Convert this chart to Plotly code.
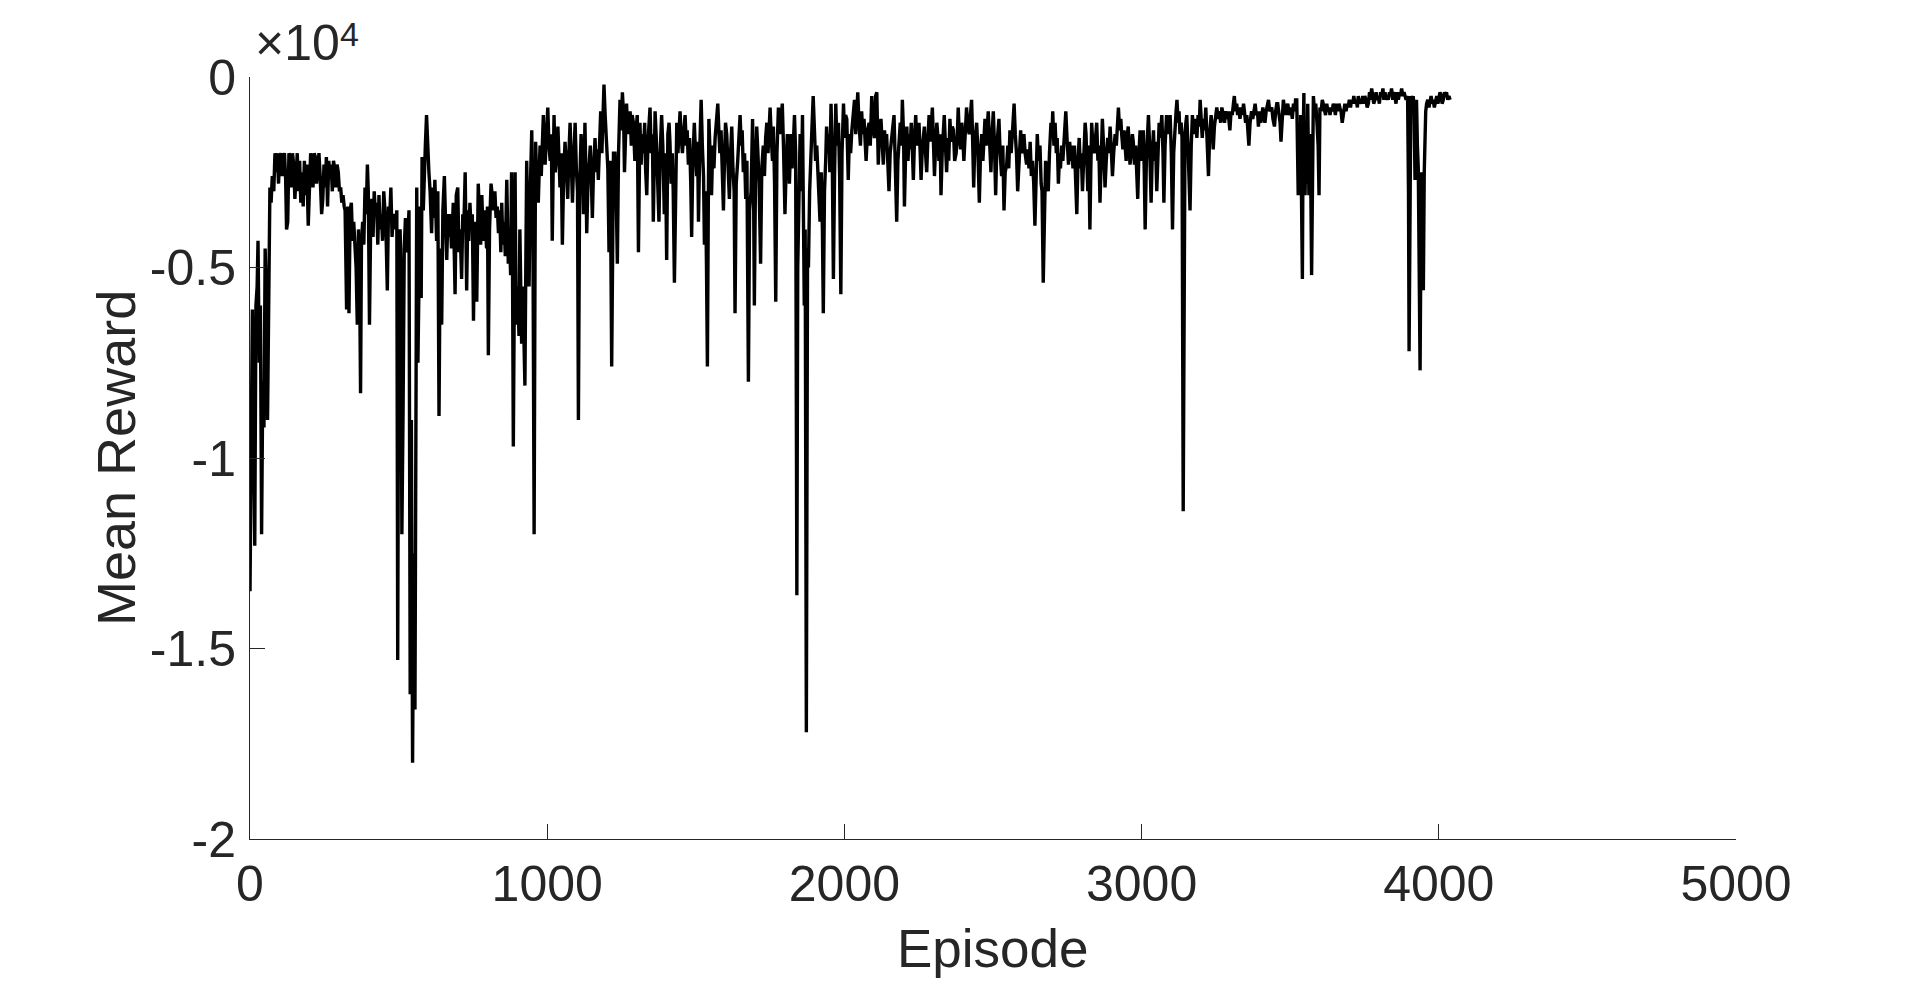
import plotly.graph_objects as go

# ---------------- data ----------------
episode = [
    0, 4, 8, 12, 16, 20, 24, 27, 31, 35, 39, 43, 47, 51, 55, 59, 63, 67, 71, 75, 80, 84,
    88, 92, 96, 100, 104, 108, 112, 116, 120, 123, 127, 131, 135, 139, 143, 147, 151, 155, 159, 163,
    167, 171, 175, 179, 183, 187, 191, 196, 200, 204, 208, 212, 216, 220, 224, 228, 232, 236, 241, 245,
    249, 253, 257, 261, 265, 269, 273, 277, 281, 285, 289, 293, 297, 301, 305, 309, 313, 317, 320,
    325, 329, 333, 337, 341, 345, 349, 353, 357, 361, 365, 369, 372, 375, 379, 383, 387, 391, 395, 398,
    402, 406, 410, 414, 418, 422, 426, 430, 434, 438, 442, 446, 450, 454, 458, 462, 466, 470, 474, 478,
    482, 486, 490, 494, 497, 501, 505, 508, 511, 515, 519, 523, 527, 531, 535, 539, 543, 547, 551, 555,
    558, 561, 565, 568, 572, 576, 579, 583, 587, 590, 594, 598, 602, 606, 611, 615, 619, 622, 626, 628,
    632, 636, 640, 645, 649, 654, 658, 662, 666, 670, 673, 678, 684, 690, 694, 699, 703, 707, 712, 716,
    720, 724, 729, 733, 736, 740, 744, 748, 752, 756, 760, 763, 768, 772, 776, 780, 785, 790, 796, 799,
    802, 806, 811, 815, 820, 824, 828, 832, 836, 840, 844, 847, 851, 855, 859, 864, 869, 873, 877, 880,
    883, 886, 889, 892, 895, 897, 901, 905, 908, 911, 914, 918, 921, 925, 928, 931, 935, 939, 943, 948,
    952, 956, 959, 961, 965, 970, 973, 976, 980, 984, 987, 990, 993, 997, 1002, 1006, 1010, 1014, 1017, 1020,
    1023, 1027, 1032, 1036, 1040, 1043, 1047, 1051, 1055, 1060, 1064, 1069, 1073, 1077, 1081, 1085, 1090, 1094, 1098, 1102,
    1105, 1109, 1114, 1118, 1122, 1127, 1130, 1133, 1137, 1141, 1145, 1148, 1152, 1156, 1161, 1165, 1168, 1172, 1176, 1180,
    1184, 1188, 1191, 1195, 1200, 1204, 1208, 1212, 1217, 1220, 1223, 1228, 1232, 1236, 1240, 1245, 1249, 1253, 1257, 1260,
    1264, 1267, 1271, 1275, 1279, 1283, 1286, 1290, 1295, 1299, 1303, 1307, 1312, 1316, 1320, 1324, 1328, 1331, 1335, 1339,
    1343, 1346, 1350, 1354, 1357, 1360, 1363, 1367, 1371, 1376, 1380, 1385, 1389, 1394, 1398, 1402, 1406, 1410, 1413, 1417,
    1421, 1424, 1428, 1432, 1436, 1440, 1443, 1447, 1451, 1455, 1460, 1464, 1468, 1471, 1475, 1479, 1483, 1486, 1490, 1495,
    1499, 1503, 1506, 1509, 1513, 1518, 1522, 1526, 1529, 1533, 1536, 1539, 1542, 1544, 1548, 1553, 1557, 1561, 1565, 1570,
    1574, 1578, 1581, 1585, 1589, 1593, 1597, 1600, 1604, 1608, 1613, 1617, 1621, 1625, 1629, 1632, 1636, 1641, 1645, 1649,
    1653, 1656, 1660, 1664, 1668, 1672, 1677, 1681, 1686, 1691, 1694, 1697, 1701, 1705, 1709, 1713, 1718, 1722, 1727, 1731,
    1735, 1739, 1743, 1747, 1750, 1754, 1758, 1761, 1765, 1769, 1773, 1778, 1782, 1786, 1791, 1795, 1800, 1804, 1808, 1811,
    1815, 1820, 1824, 1828, 1832, 1836, 1840, 1843, 1845, 1848, 1851, 1855, 1859, 1862, 1865, 1868, 1872, 1876, 1879, 1883,
    1886, 1890, 1895, 1899, 1903, 1907, 1911, 1914, 1918, 1922, 1926, 1929, 1933, 1937, 1940, 1944, 1948, 1951, 1955, 1959,
    1963, 1967, 1971, 1975, 1980, 1984, 1988, 1992, 1997, 2001, 2004, 2008, 2013, 2017, 2021, 2025, 2029, 2034, 2038, 2041,
    2045, 2049, 2054, 2058, 2062, 2066, 2069, 2073, 2078, 2083, 2087, 2092, 2096, 2101, 2105, 2109, 2114, 2118, 2123, 2127,
    2131, 2135, 2139, 2142, 2146, 2150, 2154, 2159, 2163, 2167, 2171, 2176, 2180, 2184, 2188, 2192, 2195, 2199, 2202, 2206,
    2210, 2214, 2218, 2221, 2225, 2229, 2232, 2236, 2240, 2244, 2248, 2251, 2255, 2258, 2262, 2266, 2269, 2273, 2277, 2281,
    2285, 2289, 2292, 2296, 2300, 2303, 2307, 2311, 2314, 2318, 2322, 2325, 2329, 2333, 2336, 2340, 2344, 2348, 2351, 2355,
    2359, 2363, 2367, 2371, 2376, 2380, 2383, 2387, 2391, 2395, 2398, 2402, 2406, 2411, 2415, 2420, 2424, 2428, 2431, 2435,
    2439, 2445, 2449, 2454, 2458, 2462, 2466, 2470, 2473, 2477, 2480, 2484, 2488, 2493, 2497, 2501, 2505, 2509, 2513, 2517,
    2520, 2524, 2529, 2533, 2537, 2541, 2546, 2550, 2553, 2557, 2561, 2565, 2568, 2571, 2575, 2579, 2583, 2587, 2590, 2593,
    2597, 2600, 2604, 2608, 2613, 2617, 2621, 2625, 2629, 2633, 2637, 2641, 2645, 2649, 2653, 2658, 2662, 2665, 2669, 2673,
    2677, 2681, 2686, 2690, 2695, 2698, 2701, 2705, 2709, 2713, 2716, 2720, 2724, 2727, 2731, 2735, 2740, 2745, 2749, 2754,
    2758, 2762, 2765, 2769, 2774, 2778, 2782, 2786, 2790, 2794, 2797, 2801, 2805, 2810, 2813, 2816, 2819, 2822, 2826, 2829,
    2832, 2836, 2841, 2845, 2849, 2853, 2856, 2860, 2864, 2868, 2872, 2877, 2881, 2886, 2890, 2894, 2898, 2902, 2906, 2911,
    2915, 2918, 2922, 2926, 2930, 2933, 2937, 2941, 2944, 2948, 2951, 2955, 2958, 2961, 2965, 2969, 2972, 2976, 2980, 2983,
    2987, 2991, 2995, 2999, 3003, 3006, 3009, 3012, 3016, 3019, 3023, 3027, 3032, 3036, 3040, 3043, 3047, 3051, 3055, 3059,
    3063, 3068, 3072, 3075, 3079, 3084, 3088, 3092, 3096, 3100, 3104, 3108, 3112, 3116, 3119, 3123, 3126, 3129, 3133, 3136,
    3140, 3143, 3146, 3149, 3152, 3156, 3160, 3163, 3167, 3171, 3175, 3178, 3182, 3186, 3190, 3194, 3197, 3200, 3204, 3208,
    3212, 3216, 3220, 3225, 3229, 3234, 3238, 3241, 3245, 3249, 3253, 3258, 3262, 3266, 3270, 3275, 3279, 3283, 3287, 3291,
    3294, 3297, 3301, 3305, 3309, 3312, 3316, 3320, 3323, 3327, 3331, 3335, 3339, 3343, 3346, 3350, 3354, 3358, 3361, 3365,
    3370, 3374, 3378, 3382, 3386, 3390, 3393, 3397, 3401, 3404, 3408, 3412, 3415, 3419, 3423, 3427, 3431, 3435, 3438, 3442,
    3447, 3451, 3455, 3458, 3462, 3466, 3469, 3473, 3477, 3481, 3485, 3488, 3492, 3496, 3499, 3503, 3507, 3511, 3515, 3518,
    3522, 3525, 3527, 3529, 3531, 3533, 3535, 3537, 3539, 3541, 3543, 3546, 3548, 3550, 3553, 3556, 3559, 3561, 3563, 3566,
    3569, 3572, 3575, 3578, 3582, 3586, 3590, 3594, 3597, 3600, 3604, 3608, 3611, 3615, 3619, 3623, 3627, 3630, 3634, 3638,
    3641, 3645, 3649, 3652, 3656, 3660, 3664, 3667, 3671, 3675, 3679, 3684, 3688, 3692, 3695, 3699, 3703, 3707, 3711, 3714,
    3718, 3722, 3726, 3729, 3733, 3736, 3740, 3744, 3748, 3751, 3755, 3759, 3763, 3767, 3770, 3774, 3778, 3781, 3785, 3789,
    3792, 3796, 3800, 3804, 3808, 3812, 3815, 3819, 3823, 3826, 3830, 3834, 3837, 3841, 3845, 3848, 3852, 3856, 3860, 3864,
    3868, 3871, 3875, 3879, 3883, 3886, 3890, 3895, 3898, 3900, 3903, 3906, 3910, 3914, 3917, 3920, 3923, 3925, 3928, 3931,
    3934, 3937, 3940, 3942, 3945, 3948, 3951, 3953, 3956, 3959, 3963, 3967, 3970, 3974, 3978, 3981, 3985, 3989, 3993, 3997,
    4000, 4004, 4008, 4011, 4015, 4019, 4022, 4026, 4030, 4034, 4038,
]

mean_reward = [
    -13500, -8500, -6100, -9000, -12300, -6000, -5500, -4300, -7500, -6000, -12000, -8000, -9200, -4500, -5800, -9000, -4800, -2900, -3300, -2600, -3000, -2000,
    -2500, -2000, -2800, -2100, -2000, -2600, -2100, -2000, -2700, -4000, -3800, -2000, -2100, -2900, -2000, -2300, -3200, -2600, -2000, -3000,
    -2200, -3300, -2500, -3400, -2200, -3100, -2300, -3900, -2800, -2000, -2200, -2900, -2000, -2100, -2800, -2200, -2000, -2600, -3600, -3200,
    -2300, -2900, -2100, -3400, -2200, -2600, -2300, -3000, -2200, -2400, -2900, -2300, -2500, -3000, -2900, -3300, -3100, -3400, -3500,
    -6100, -3400, -6200, -3500, -3300, -4300, -3800, -4400, -5000, -6500, -4000, -5500, -8300, -4400, -3800, -4400, -2900, -3600, -2300, -3000,
    -6500, -3900, -3200, -4200, -3000, -3600, -3300, -4400, -3100, -4000, -3600, -4300, -3000, -3500, -4200, -5600, -3400, -3700, -2900, -4200,
    -3600, -3700, -4000, -3500, -15300, -4200, -4000, -5000, -12000, -8800, -4500, -3700, -4600, -4200, -3500, -16200, -9000, -18000, -12500, -16600,
    -7300, -2900, -7500, -5500, -3400, -5800, -2100, -3500, -2200, -1800, -1000, -2000, -2500, -3000, -4100, -2900, -3700, -2700, -3500, -4300,
    -3000, -8900, -4500, -6500, -3500, -2600, -3800, -4800, -3600, -4200, -3600, -4500, -3300, -5700, -3100, -2900, -4600, -4000, -5300, -3600,
    -3800, -2500, -5600, -3500, -4300, -3300, -4000, -3600, -6400, -3800, -4300, -5900, -2800, -3500, -4400, -3100, -4300, -3500, -4500, -3400,
    -7300, -4000, -2800, -3100, -3500, -3000, -3700, -3400, -4100, -3500, -4600, -3300, -4400, -3800, -4700, -2700, -4900, -4200, -5200, -2500,
    -4500, -9700, -5000, -2500, -6000, -6500, -5500, -6800, -4000, -6000, -7000, -5500, -6400, -8100, -5000, -2200, -4000, -5500, -3000, -1400,
    -4000, -12000, -5000, -1700, -2800, -3300, -2500, -1800, -2600, -1500, -1000, -2000, -2300, -1600, -800, -1800, -2200, -1500, -4300, -2500,
    -1000, -2500, -2000, -1300, -2400, -2900, -2000, -4400, -2700, -1700, -2300, -3200, -2000, -1200, -2200, -3300, -2000, -1200, -2400, -3000,
    -9000, -3000, -1500, -2200, -3600, -1200, -2500, -4100, -2800, -2300, -1800, -2600, -3700, -2400, -1600, -2500, -1900, -2700, -1800, -900,
    -2000, -1200, -200, -1000, -1700, -2400, -4600, -2200, -7600, -3000, -2000, -2000, -3000, -4900, -2000, -600, -1400, -400, -1000, -2500,
    -1300, -700, -1500, -1100, -900, -1800, -1000, -1200, -2200, -1400, -1000, -4600, -1200, -2300, -1500, -2000, -1200, -2400, -3100, -1700,
    -1200, -800, -2000, -1500, -3800, -1800, -900, -1600, -2500, -3800, -2000, -1000, -1800, -3600, -2000, -4800, -1500, -1200, -1700, -2800,
    -2000, -3000, -5400, -2300, -1200, -2000, -1500, -900, -1600, -2000, -1400, -1000, -1800, -1400, -2300, -1600, -2800, -4200, -2200, -1200,
    -2000, -2600, -1700, -3800, -2000, -600, -1800, -2600, -4400, -3000, -5000, -7600, -3500, -1100, -2000, -3100, -1800, -2400, -1600, -1200,
    -700, -1500, -2000, -1400, -2600, -3500, -2000, -1200, -1500, -2200, -3200, -2000, -1300, -2400, -3000, -6200, -2800, -2200, -1600, -1000,
    -1800, -1400, -2500, -2000, -3200, -2200, -8000, -3500, -3000, -1100, -2500, -6000, -2500, -1300, -2000, -2800, -4900, -2400, -1800, -2600,
    -1600, -1200, -2000, -1400, -800, -1600, -2200, -1300, -2800, -5900, -2000, -800, -1500, -1200, -700, -1800, -3600, -2400, -1500, -1800,
    -2800, -1500, -2400, -1800, -1000, -2000, -13600, -5000, -4000, -2200, -1500, -3000, -1000, -3500, -6000, -4000, -17200, -4500, -5000, -3000,
    -2000, -1500, -500, -1300, -2200, -1800, -2500, -3200, -3800, -2500, -4000, -6200, -3000, -2200, -1300, -2000, -1500, -2500, -700, -2000,
    -5300, -2500, -700, -1800, -1200, -2600, -5700, -2000, -700, -1600, -1000, -1100, -2700, -1500, -2000, -1400, -1000, -600, -1500, -1000,
    -400, -1200, -1800, -900, -1500, -1100, -1600, -2200, -1400, -1200, -1800, -500, -1300, -1600, -500, -400, -2300, -1500, -1100, -1800,
    -2300, -1400, -1900, -1500, -2200, -3000, -2000, -1700, -1300, -1000, -2000, -3800, -2200, -1500, -1200, -1800, -600, -1500, -3400, -2000,
    -1300, -2200, -1500, -1900, -1200, -2000, -2700, -1600, -1000, -1800, -1400, -1200, -2000, -2700, -1900, -1500, -1300, -2000, -2500, -1600,
    -1000, -1700, -1300, -800, -1800, -2600, -1800, -1200, -1500, -2200, -1500, -3100, -2000, -1500, -1000, -1800, -2500, -1600, -2200, -1100,
    -1700, -1300, -1400, -2200, -2000, -1500, -800, -1600, -1900, -1200, -1500, -2200, -1400, -800, -1300, -1500, -1000, -600, -1500, -2900,
    -1700, -1200, -1900, -3300, -2000, -1500, -2200, -1300, -1100, -1800, -1400, -900, -1600, -2500, -1500, -900, -1800, -3100, -1800, -1300,
    -1100, -2000, -2600, -1800, -3500, -2500, -2300, -1800, -2400, -1400, -2000, -1500, -1200, -700, -1500, -2000, -3000, -2200, -1800, -1400,
    -2000, -1800, -1500, -2000, -2300, -1900, -2400, -1700, -2600, -2200, -2800, -3900, -2500, -1500, -2200, -1800, -2800, -3000, -5400, -3000,
    -2200, -2500, -3000, -2000, -1200, -1600, -900, -1800, -1200, -2000, -1600, -2800, -2000, -2400, -1800, -2200, -1500, -900, -1600, -2300,
    -1700, -2200, -1800, -2400, -1800, -2500, -3600, -2200, -1600, -2400, -2000, -3000, -2000, -1200, -1500, -2400, -3000, -1800, -4000, -2500,
    -1200, -1800, -2000, -1600, -1200, -2200, -1800, -3300, -2000, -1100, -1800, -2900, -2200, -1600, -2000, -1300, -1900, -2600, -2000, -1500,
    -1800, -1200, -800, -1400, -1100, -1500, -1900, -1400, -1900, -2200, -1600, -1300, -1800, -2300, -2000, -1500, -1700, -2300, -1800, -2400,
    -3200, -2000, -1400, -2200, -1800, -1400, -2500, -4000, -2200, -1600, -1000, -1800, -3300, -2000, -1400, -2200, -1700, -3000, -1800, -1200,
    -1600, -1000, -2000, -3300, -1800, -1000, -1500, -1200, -1000, -2000, -4000, -2000, -1300, -900, -600, -1200, -900, -1500, -1200, -1600,
    -11400, -3000, -1500, -1200, -1000, -1800, -2500, -3500, -1800, -1000, -1500, -1200, -1100, -1600, -1000, -1300, -600, -1200, -1600, -1100,
    -1400, -800, -1500, -2600, -1500, -1000, -1400, -1900, -1300, -1100, -800, -1100, -900, -1200, -800, -1000, -1200, -900, -1100, -900,
    -1200, -1400, -900, -1000, -700, -500, -900, -700, -1000, -800, -1100, -800, -1000, -700, -900, -1200, -1000, -1400, -1800, -1200,
    -900, -1100, -800, -700, -1000, -900, -1300, -900, -1200, -1000, -800, -1100, -1200, -900, -700, -600, -900, -800, -800, -1100,
    -1300, -900, -700, -700, -1000, -1200, -1700, -900, -600, -800, -1000, -800, -700, -1000, -900, -800, -1100, -700, -900, -600,
    -600, -2400, -3100, -1200, -2500, -3000, -1000, -2800, -3100, -5300, -2000, -420, -2200, -3100, -1500, -2800, -700, -2000, -3100, -1500,
    -2600, -5200, -2000, -500, -900, -700, -1200, -1800, -3100, -800, -900, -600, -700, -900, -1000, -700, -900, -800, -1000, -800,
    -900, -700, -800, -1000, -700, -900, -700, -800, -900, -1200, -900, -700, -900, -700, -800, -600, -800, -600, -700, -500,
    -700, -600, -800, -500, -700, -600, -700, -500, -700, -500, -600, -800, -700, -400, -600, -300, -500, -700, -600, -400,
    -600, -500, -700, -400, -500, -300, -600, -400, -600, -500, -600, -400, -500, -300, -600, -400, -500, -700, -400, -600,
    -400, -500, -300, -500, -400, -500, -600, -500, -3000, -7200, -2000, -500, -700, -500, -900, -2700, -1500, -600, -1800, -2400,
    -5000, -7700, -4000, -2500, -3000, -5600, -2500, -1500, -900, -700, -600, -800, -700, -500, -700, -600, -800, -600, -500, -700,
    -500, -400, -500, -700, -600, -400, -500, -400, -600, -500, -600,
]

x_tick_values = [0, 1000, 2000, 3000, 4000, 5000]
x_tick_labels = ["0", "1000", "2000", "3000", "4000", "5000"]
y_tick_values = [-20000, -15000, -10000, -5000, 0]
y_tick_labels = ["-2", "-1.5", "-1", "-0.5", "0"]

x_title = "Episode"
y_title = "Mean Reward"
exponent_base = "×10"
exponent_power = "4"

# ---------------- figure ----------------
n = min(len(episode), len(mean_reward))
FONT = "Liberation Sans, Arial, Helvetica, sans-serif"
INK = "#262626"

fig = go.Figure()
fig.add_trace(go.Scatter(
    x=episode[:n], y=mean_reward[:n], mode="lines",
    line=dict(color="black", width=3.4),
    showlegend=False,
))

axis_common = dict(
    showgrid=False, zeroline=False, automargin=False,
    showline=True, linecolor=INK, linewidth=1, mirror=False,
    ticks="inside", ticklen=15, tickwidth=1, tickcolor=INK,
    tickfont=dict(family=FONT, size=50, color=INK),
)

# The page body adds an 8px margin, so the figure is sized to fit the window.
fig.update_layout(
    width=1904, height=970,
    margin=dict(l=242, r=176, t=69, b=139, autoexpand=False),
    plot_bgcolor="white", paper_bgcolor="white",
    font=dict(family=FONT, color=INK),
    xaxis=dict(range=[0, 5000], tickmode="array", tickvals=x_tick_values,
               ticktext=x_tick_labels, ticklabelstandoff=1, **axis_common),
    yaxis=dict(range=[-20000, 0], tickmode="array", tickvals=y_tick_values,
               ticktext=y_tick_labels, ticklabelstandoff=3, **axis_common),
    annotations=[
        dict(text=x_title, xref="paper", yref="paper", x=0.5, y=-0.1438,
             xanchor="center", yanchor="middle", showarrow=False,
             font=dict(family=FONT, size=53, color=INK)),
        dict(text=y_title, xref="paper", yref="paper", x=-0.0902, y=0.5,
             xanchor="center", yanchor="middle", textangle=-90, showarrow=False,
             font=dict(family=FONT, size=54, color=INK)),
        dict(text=exponent_base, xref="paper", yref="paper", x=0.002, y=1.0046,
             xanchor="left", yanchor="bottom", showarrow=False,
             font=dict(family=FONT, size=50, color=INK)),
        dict(text=exponent_power, xref="paper", yref="paper", x=0.0592, y=1.0290,
             xanchor="left", yanchor="bottom", showarrow=False,
             font=dict(family=FONT, size=34, color=INK)),
    ],
)

fig.write_html("out.html")
